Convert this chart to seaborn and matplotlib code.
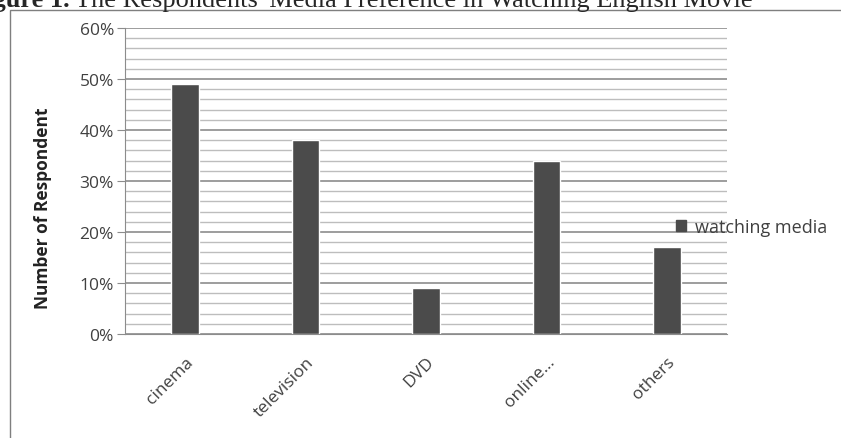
import matplotlib.pyplot as plt
import matplotlib.ticker as mticker
from matplotlib.patches import Rectangle
import seaborn as sns
import pandas as pd

# chart data
media = ["cinema", "television", "DVD", "online...", "others"]
share = [49, 38, 9, 34, 17]
series_name = "watching media"

df = pd.DataFrame({"media": media, "share": share})

sns.set_style("white")
plt.rcParams["font.family"] = ["Open Sans", "DejaVu Sans"]

fig = plt.figure(figsize=(8.41, 4.39), dpi=100)
ax = fig.add_axes([125 / 841, 1 - 335 / 439, 602 / 841, 306 / 439])

sns.barplot(data=df, x="media", y="share", color="#4b4b4b", width=0.23,
            saturation=1, ax=ax, label=series_name, legend=False)

ax.set_ylim(0, 60)
ax.set_xlim(-0.5, 4.5)
ax.yaxis.set_major_locator(mticker.MultipleLocator(10))
ax.yaxis.set_minor_locator(mticker.MultipleLocator(2))
ax.yaxis.set_major_formatter(mticker.FuncFormatter(lambda v, p: f"{int(v)}%"))
ax.grid(which="major", axis="y", color="#8c8c8c", lw=1.2)
ax.grid(which="minor", axis="y", color="#bdbdbd", lw=1.0)
ax.set_axisbelow(True)
for s in ["top", "right"]:
    ax.spines[s].set_visible(False)
ax.spines["left"].set_color("#8c8c8c")
ax.spines["bottom"].set_color("#8c8c8c")
ax.tick_params(axis="y", which="major", length=6, color="#8c8c8c", labelsize=12.5,
               labelcolor="#404040", pad=2, left=True)
ax.tick_params(axis="y", which="minor", length=0)
ax.tick_params(axis="x", length=0, labelsize=12.5, labelcolor="#404040", pad=14)
ax.set_xticks(range(len(media)))
ax.set_xticklabels(media, rotation=45, ha="right", rotation_mode="anchor")
ax.set_xlabel("")
ax.set_ylabel("Number of Respondent", fontsize=12.5, fontweight="bold", color="#222222")
ax.yaxis.set_label_coords(-0.121, 0.415)

# legend
fig.legend(handles=[Rectangle((0, 0), 1, 1, color="#4b4b4b")], labels=[series_name],
           loc="center left", bbox_to_anchor=(0.785, 0.48), frameon=False,
           fontsize=13, handlelength=0.55, handleheight=0.55, handletextpad=0.5,
           labelcolor="#404040")

# outer chart border
fig.patches.append(Rectangle((10 / 841, -0.01), 1.0, 1 - 11 / 439 + 0.01,
                             transform=fig.transFigure, fill=False,
                             edgecolor="#7f7f7f", lw=1.0))

# figure caption, cut off at top/left like the source
fig.text(70 / 841, 1 - 7 / 439, "Figure 1.", fontsize=19, fontweight="bold",
         family="Liberation Serif", va="baseline", ha="right")
fig.text(75 / 841, 1 - 7 / 439, "The Respondents' Media Preference in Watching English Movie",
         fontsize=19, family="Liberation Serif", va="baseline", ha="left")

fig.savefig("out.png", dpi=100)
